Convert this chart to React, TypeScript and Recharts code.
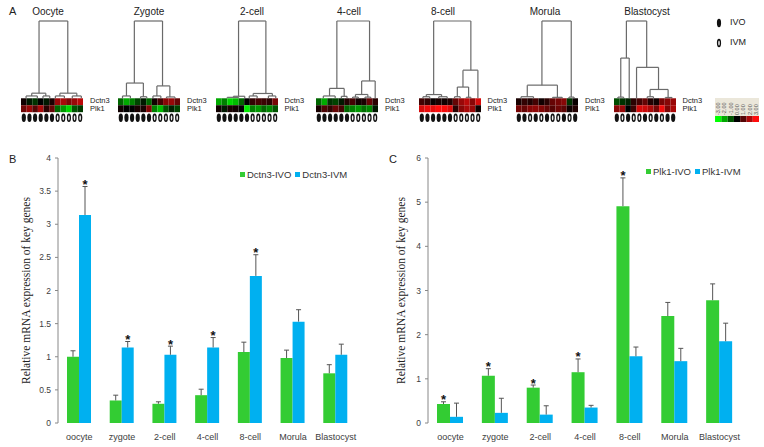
import {
  Bar,
  BarChart,
  ComposedChart,
  LabelList,
  Legend,
  ReferenceArea,
  ReferenceLine,
  Scatter,
  XAxis,
  YAxis,
} from "recharts";

// ---- panel B / C data ----
const stages = ["oocyte", "zygote", "2-cell", "4-cell", "8-cell", "Morula", "Blastocyst"];
const dctn3Ivo = [1.0, 0.34, 0.29, 0.42, 1.07, 0.98, 0.75];
const dctn3IvoErr = [0.09, 0.08, 0.03, 0.09, 0.15, 0.12, 0.13];
const dctn3Ivm = [3.14, 1.14, 1.03, 1.14, 2.22, 1.53, 1.03];
const dctn3IvmErr = [0.43, 0.09, 0.13, 0.15, 0.32, 0.18, 0.16];
const dctn3IvmSig = [true, true, true, true, true, false, false];
const plk1Ivo = [0.43, 1.07, 0.8, 1.15, 4.91, 2.42, 2.78];
const plk1IvoErr = [0.05, 0.16, 0.06, 0.3, 0.64, 0.31, 0.37];
const plk1IvoSig = [true, true, true, true, true, false, false];
const plk1Ivm = [0.14, 0.23, 0.19, 0.35, 1.51, 1.4, 1.85];
const plk1IvmErr = [0.31, 0.33, 0.2, 0.05, 0.21, 0.29, 0.41];
const dctn3Ticks = [0, 0.5, 1, 1.5, 2, 2.5, 3, 3.5, 4];
const plk1Ticks = [0, 1, 2, 3, 4, 5, 6];

// ---- panel A data ----
const heatStages = ["Oocyte", "Zygote", "2-cell", "4-cell", "8-cell", "Morula", "Blastocyst"];
const heatDctn3 = [
  [0.2, -0.3, -0.6, 0, -0.3, 0.3, 1.8, 2.0, 1.5, 1.8, 2.2],
  [-1.2, -2, -1.5, -0.8, -0.3, -1.2, 0.2, 0.8, 1.6, 1.8, 1.2],
  [-2, -1.5, -2.5, -2.2, -1.2, 0, 0.6, 0.8, 0.7, 0.5, 1.4],
  [-1.2, -2.0, -0.6, -0.8, -0.3, 0.4, 0.8, 0.2, 0.3, 1.2, 0.5],
  [0.8, 0.6, 0.1, 0.3, 0.2, 0.4, 1.2, 1.8, 2.2, 1.6, 2.5],
  [0.3, 0.6, 0.4, 0.8, 0.2, 0.5, 1.2, 1.4, 1.6, -0.6, 0.1],
  [-0.9, -0.6, -0.4, 0.5, 0.8, 1.2, 0.4, 0.2, 1.4, 1.6, 1.8],
];
const heatPlk1 = [
  [1.3, 1.8, 1.0, 2, 0.5, 1.2, -1.2, -1.8, -2.5, -1.0, -0.7],
  [0.2, 0, 0, 0.3, 0.3, 1.5, -1.5, -2.2, -1.0, -0.4, -0.8],
  [0.2, -0.3, 0.3, 0.2, 0, -2.8, -1.5, -1.8, -1.2, -1.6, -1.0],
  [0.3, 0.9, 0.6, 1.2, 0.8, -1.2, -1.5, -1.8, -1.3, -1.6, -0.3],
  [2.5, 2.8, 2.7, 3, 2.9, 2.6, 0.5, 1.6, 2.0, 1.8, 0.2],
  [1.4, 1.2, 1.6, 1.7, 1.5, 1.2, 1.0, 1.3, 1.1, 0.2, 0.4],
  [1.6, 1.8, 0, 0.7, 2.5, 2.4, 2.0, 1.4, 2.8, 1.5, 2.0],
];
const heatIvo = [
  [1, 1, 1, 1, 1, 1, 0, 0, 0, 0, 0],
  [1, 1, 1, 1, 1, 1, 0, 0, 0, 0, 0],
  [1, 1, 1, 1, 1, 1, 0, 0, 0, 0, 0],
  [1, 1, 1, 1, 1, 1, 0, 0, 0, 0, 0],
  [1, 1, 1, 1, 1, 1, 0, 0, 0, 0, 0],
  [1, 1, 0, 1, 0, 1, 0, 0, 1, 0, 1],
  [1, 0, 1, 0, 0, 1, 0, 1, 0, 1, 1],
];
// merges: [left x, right x, height, left child height, right child height]
const dendroOocyte = [
  [2.7, 7.8, 100, 6.6, 6.6], [1.4, 3.9, 6.6, 3, 3], [0.4, 2.4, 3, 0, 0],
  [3.4, 4.6, 3, 0, 0], [6.4, 9.4, 6.6, 3, 3], [5.6, 7.2, 3, 0, 0], [8.6, 10.2, 3, 0, 0],
];
const dendroZygote = [
  [2.4, 7.4, 100, 19.7, 16], [1.0, 4.0, 19.7, 3, 2], [0.3, 1.7, 3, 0, 0],
  [3.5, 4.6, 2, 0, 0], [6.4, 8.7, 16, 3, 1.7], [5.7, 7.1, 3, 0, 0], [8.1, 9.6, 1.7, 0, 0],
];
const dendro2cell = [
  [3.5, 8.35, 100, 2.6, 6.2], [2.6, 4.6, 2.6, 1.2, 0], [1.5, 3.5, 1.2, 0, 0],
  [6.1, 9.5, 6.2, 3, 3], [5.4, 6.8, 3, 0, 0], [8.8, 10.1, 3, 0, 0],
];
const dendro4cell = [
  [3.2, 9.0, 100, 12.8, 22.4], [1.9, 4.5, 12.8, 3, 2.5], [0.8, 2.9, 3, 0, 0],
  [4.0, 5.0, 2.5, 0, 0], [7.6, 10.0, 22.4, 4.9, 0], [6.5, 8.7, 4.9, 1.5, 1.5],
  [6.0, 7.0, 1.5, 0, 0], [8.2, 9.2, 1.5, 0, 0],
];
const dendro8cell = [
  [2.1, 8.7, 100, 4.8, 36.4], [0.8, 3.5, 4.8, 2, 2], [0.2, 1.4, 2, 0, 0],
  [3.0, 4.5, 2, 0, 0], [7.3, 9.95, 36.4, 14.5, 0], [6.3, 8.3, 14.5, 2, 1.3],
  [5.8, 6.8, 2, 0, 0], [7.9, 8.7, 1.3, 0, 0],
];
const dendroMorula = [
  [4.1, 9.3, 100, 17, 1.5], [1.5, 6.85, 17, 2, 1.2], [0.4, 2.6, 2, 0, 0],
  [6.0, 7.7, 1.2, 0, 0], [8.9, 9.8, 1.5, 0, 0],
];
const dendroBlastocyst = [
  [1.7, 5.3, 100, 52, 40], [0.7, 2.2, 52, 1.5, 0], [0.2, 1.2, 1.5, 0, 0],
  [3.5, 7.4, 40, 0, 11.4], [5.9, 9.1, 11.4, 2, 1], [5.4, 6.5, 2, 0, 0], [8.6, 9.8, 1, 0, 0],
];
const dendrograms = [
  dendroOocyte, dendroZygote, dendro2cell, dendro4cell, dendro8cell, dendroMorula, dendroBlastocyst,
];
const scaleValues = [-3, -2, -1, 0, 1, 2, 3];

// layout
const heatLeft = [21, 118, 215.5, 316, 418.5, 516, 613.5];
const titleCenter = [48, 149, 252, 349, 443, 545, 647];

const GREEN = "#33CC33";
const BLUE = "#00B0F0";
const AXIS = "#888";
const SANS = "'Liberation Sans', Arial, sans-serif";
const SERIF = "'Liberation Serif', 'Times New Roman', serif";

function heatColor(v: number) {
  const c = Math.round(255 * Math.min(1, Math.abs(v) / 3));
  return v >= 0 ? `rgb(${c},${Math.round(c * 0.05)},${Math.round(c * 0.05)})` : `rgb(0,${c},0)`;
}

function Txt({ x, y, size, children, center, family = SANS }: any) {
  return (
    <div
      style={{
        position: "absolute",
        left: x,
        top: y - size * 0.55,
        fontSize: size,
        lineHeight: 1,
        fontFamily: family,
        color: "#222",
        whiteSpace: "nowrap",
        transform: center ? "translateX(-50%)" : undefined,
      }}
    >
      {children}
    </div>
  );
}

const ovalShape = (p: any) => (
  <g>
    <ellipse cx={p.cx} cy={p.cy} rx={2.1} ry={4.2} fill="#111" />
    {!p.payload.ivo && <ellipse cx={p.cx} cy={p.cy} rx={0.8} ry={2.6} fill="#eee" />}
  </g>
);

function Cluster({ idx }: { idx: number }) {
  const tree = dendrograms[idx];
  const ovals = heatIvo[idx].map((v, i) => ({ x: i, y: -25.3, ivo: v }));
  const line = { stroke: "#6a6a6a", strokeWidth: 1.2 };
  return (
    <div style={{ position: "absolute", left: heatLeft[idx] - 2, top: 19 }}>
      <ComposedChart width={66} height={106} margin={{ top: 2, right: 2, bottom: 2, left: 2 }}>
        <XAxis type="number" dataKey="x" domain={[-0.5, 10.5]} hide allowDataOverflow />
        <YAxis type="number" dataKey="y" domain={[-32, 100]} hide allowDataOverflow />
        {heatDctn3[idx].map((v, i) => (
          <ReferenceArea key={`d${i}`} x1={i - 0.5} x2={i + 0.5} y1={-9} y2={0} fill={heatColor(v)} fillOpacity={1} />
        ))}
        {heatPlk1[idx].map((v, i) => (
          <ReferenceArea key={`p${i}`} x1={i - 0.5} x2={i + 0.5} y1={-18} y2={-9} fill={heatColor(v)} fillOpacity={1} />
        ))}
        {tree.flatMap(([l, r, h, hl, hr], k) => [
          <ReferenceLine key={`h${k}`} segment={[{ x: l, y: h }, { x: r, y: h }]} {...line} />,
          <ReferenceLine key={`l${k}`} segment={[{ x: l, y: hl }, { x: l, y: h }]} {...line} />,
          <ReferenceLine key={`r${k}`} segment={[{ x: r, y: hr }, { x: r, y: h }]} {...line} />,
        ])}
        <Scatter data={ovals} shape={ovalShape} isAnimationActive={false} />
      </ComposedChart>
    </div>
  );
}

const scaleTick = ({ x, y, payload }: any) => (
  <text
    x={x}
    y={y}
    dy={2}
    transform={`rotate(-90 ${x} ${y})`}
    textAnchor="start"
    fontSize={5.5}
    fontFamily={SANS}
    fill="#555"
  >
    {payload.value.toFixed(2)}
  </text>
);

// colour key: each step of the scale is one cell
const scaleCell = (p: any) => (
  <rect x={p.cx - 3.1} y={p.cy - 3} width={6.3} height={6} fill={heatColor(p.payload.v)} />
);

function ColorScale() {
  const cells = scaleValues.map((v) => ({ v, y: 0.5 }));
  return (
    <>
      <div style={{ position: "absolute", left: 715, top: 98, width: 44, height: 18, background: "#ebe7da" }} />
      <div style={{ position: "absolute", left: 715, top: 98 }}>
        <ComposedChart width={44} height={25} margin={{ top: 0, right: 0, bottom: 1, left: 0 }}>
          <XAxis
            type="number"
            dataKey="v"
            orientation="top"
            domain={[-3.5, 3.5]}
            ticks={scaleValues}
            interval={0}
            tick={scaleTick}
            tickSize={0}
            tickMargin={1}
            axisLine={false}
            tickLine={false}
            height={18}
            allowDataOverflow
          />
          <YAxis type="number" dataKey="y" domain={[0, 1]} hide />
          <Scatter data={cells} shape={scaleCell} isAnimationActive={false} />
        </ComposedChart>
      </div>
    </>
  );
}

const whisker = (errs: number[], sig: boolean[] | null) => (p: any) => {
  const vb = p.viewBox || p;
  const { x, y, width, height } = vb;
  const value = Number(p.value);
  if (!value) return null;
  const top = y - (errs[p.index] * height) / value;
  const cx = x + width / 2;
  return (
    <g>
      <line x1={cx} x2={cx} y1={y} y2={top} stroke="#555" strokeWidth={1} />
      <line x1={cx - 2.5} x2={cx + 2.5} y1={top} y2={top} stroke="#555" strokeWidth={1} />
      {sig && sig[p.index] && (
        <text x={cx} y={top + 2.5} textAnchor="middle" fontSize={13} fontWeight="bold" fontFamily={SANS} fill="#111">
          *
        </text>
      )}
    </g>
  );
};

const legendContent = (names: string[]) => (props: any) => {
  const items = [...(props.payload || [])].sort((a: any, b: any) => names.indexOf(a.value) - names.indexOf(b.value));
  return (
    <div style={{ display: "flex", gap: 4, fontSize: 9.5, fontFamily: SANS, color: "#333", lineHeight: 1 }}>
      {items.map((e: any) => (
        <span key={e.value} style={{ display: "flex", alignItems: "center" }}>
          <span style={{ width: 5, height: 5, background: e.color, marginRight: 2, display: "inline-block" }} />
          {e.value}
        </span>
      ))}
    </div>
  );
};

function ExprChart(props: any) {
  const { width, yWidth, marginRight, labelOffset, ticks, ivo, ivoErr, ivm, ivmErr, ivoSig, ivmSig, names, barSize, legendLeft, legendTop } = props;
  const data = stages.map((s, i) => ({ stage: s, ivo: ivo[i], ivm: ivm[i] }));
  const bounds = stages.map((_, i) => i).concat(stages.length);
  return (
    <BarChart
      width={width}
      height={307}
      data={data}
      margin={{ top: 18, right: marginRight, bottom: 2, left: 0 }}
      barGap={0}
      barSize={barSize}
    >
      <XAxis
        xAxisId="grid"
        type="number"
        domain={[0, stages.length]}
        ticks={bounds}
        tickFormatter={() => ""}
        height={0}
        axisLine={{ stroke: AXIS }}
        tickLine={{ stroke: AXIS }}
        tickSize={4}
        allowDataOverflow
      />
      <XAxis
        xAxisId="cat"
        dataKey="stage"
        interval={0}
        axisLine={false}
        tickLine={false}
        tickSize={6}
        tickMargin={5}
        height={22}
        tick={{ fontSize: 9, fill: "#404040", fontFamily: SANS }}
      />
      <YAxis
        width={yWidth}
        domain={[0, ticks[ticks.length - 1]]}
        ticks={ticks}
        interval={0}
        axisLine={{ stroke: AXIS }}
        tickLine={{ stroke: AXIS }}
        tickSize={3}
        tickMargin={4}
        tick={{ fontSize: 8.5, fill: "#404040", fontFamily: SANS }}
        label={{
          value: "Relative mRNA expression of key genes",
          angle: -90,
          position: "insideLeft",
          offset: labelOffset,
          style: { textAnchor: "middle", fontFamily: SERIF, fontSize: 11.5, fill: "#222" },
        }}
      />
      <Legend
        verticalAlign="middle"
        align="center"
        content={legendContent(names)}
        wrapperStyle={{ left: legendLeft, top: legendTop, width: "auto" }}
      />
      <Bar xAxisId="cat" dataKey="ivo" name={names[0]} fill={GREEN} isAnimationActive={false}>
        <LabelList dataKey="ivo" content={whisker(ivoErr, ivoSig)} />
      </Bar>
      <Bar xAxisId="cat" dataKey="ivm" name={names[1]} fill={BLUE} isAnimationActive={false}>
        <LabelList dataKey="ivm" content={whisker(ivmErr, ivmSig)} />
      </Bar>
    </BarChart>
  );
}

export default function App() {
  return (
    <div style={{ position: "absolute", left: 0, top: 0, width: 764, height: 447, background: "#fff", overflow: "hidden" }}>
      <Txt x={9} y={12} size={11}>A</Txt>
      {heatStages.map((s, i) => (
        <Txt key={s} x={titleCenter[i]} y={12} size={10}>
          <span style={{ display: "inline-block", transform: "translateX(-50%)" }}>{s}</span>
        </Txt>
      ))}
      {heatStages.map((s, i) => (
        <Cluster key={s} idx={i} />
      ))}
      {heatStages.map((s, i) => (
        <div key={s}>
          <Txt x={heatLeft[i] + 69} y={101} size={7.5}>Dctn3</Txt>
          <Txt x={heatLeft[i] + 69} y={109.5} size={7.5}>Plk1</Txt>
        </div>
      ))}
      <svg style={{ position: "absolute", left: 716, top: 17 }} width={8} height={34}>
        <ellipse cx={3} cy={6} rx={2.1} ry={4.2} fill="#111" />
        <ellipse cx={3} cy={26} rx={2.1} ry={4.2} fill="#111" />
        <ellipse cx={3} cy={26} rx={0.8} ry={2.6} fill="#eee" />
      </svg>
      <Txt x={730} y={23} size={9}>IVO</Txt>
      <Txt x={730} y={43} size={9}>IVM</Txt>
      <ColorScale />

      <Txt x={9} y={160} size={11}>B</Txt>
      <div style={{ position: "absolute", left: 0, top: 140 }}>
        <ExprChart
          width={380}
          yWidth={58}
          marginRight={23}
          labelOffset={26}
          ticks={dctn3Ticks}
          ivo={dctn3Ivo}
          ivoErr={dctn3IvoErr}
          ivm={dctn3Ivm}
          ivmErr={dctn3IvmErr}
          ivoSig={null}
          ivmSig={dctn3IvmSig}
          names={["Dctn3-IVO", "Dctn3-IVM"]}
          barSize={12}
          legendLeft={240}
          legendTop={30}
        />
      </div>

      <Txt x={389} y={160} size={11}>C</Txt>
      <div style={{ position: "absolute", left: 380, top: 140 }}>
        <ExprChart
          width={384}
          yWidth={48}
          marginRight={22}
          labelOffset={21}
          ticks={plk1Ticks}
          ivo={plk1Ivo}
          ivoErr={plk1IvoErr}
          ivm={plk1Ivm}
          ivmErr={plk1IvmErr}
          ivoSig={plk1IvoSig}
          ivmSig={null}
          names={["Plk1-IVO", "Plk1-IVM"]}
          barSize={13}
          legendLeft={266}
          legendTop={27}
        />
      </div>
    </div>
  );
}
